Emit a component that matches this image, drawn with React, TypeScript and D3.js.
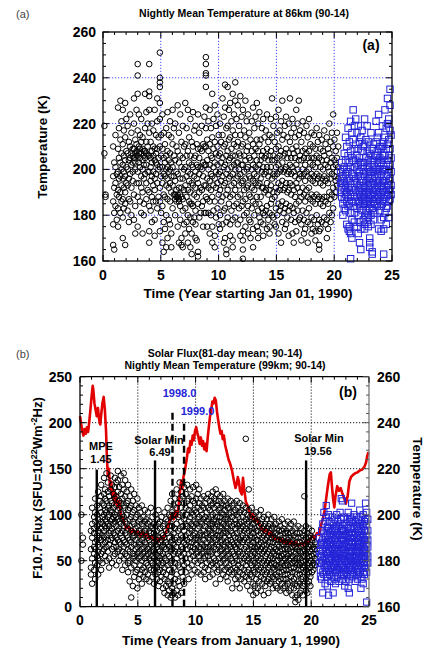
import React from "react";
import * as d3 from "d3";

const FONT = "'Liberation Sans', Arial, Helvetica, sans-serif";

// (a) nightly mean temperature at 86 km: [year since 1990, temperatures (K)]
const temp86Circles: [number, number[]][] = [
  [0.12, [219, 207]], [0.22, [189, 188]],
  [0.88, [210, 197, 186, 176, 167]], [0.97, [203, 192, 181, 165]], [1.08, [215, 201, 194, 184]],
  [1.19, [198, 189, 178]], [1.3, [227, 209, 199, 191, 183, 175]], [1.38, [218, 205, 196, 188]],
  [1.5, [230, 213, 203, 197, 190, 181]], [1.6, [221, 207, 200, 193, 186]],
  [1.71, [226, 211, 202, 196, 187, 179, 170]], [1.8, [217, 206, 199, 192, 183]],
  [1.92, [229, 214, 204, 197, 190, 185, 167]], [2.02, [222, 208, 201, 194]],
  [2.13, [219, 207, 200, 193, 182]], [2.24, [212, 204, 196, 187, 177]],
  [2.35, [224, 210, 205, 198, 186]], [2.46, [216, 207, 202, 192, 180]],
  [2.57, [209, 206, 203, 199, 195]], [2.68, [231, 220, 209, 205, 189, 178]],
  [2.79, [213, 207, 203, 200, 184, 172]], [2.9, [226, 211, 208, 206, 194]],
  [3.0, [246, 241, 233, 217, 206, 199, 188, 175]], [3.1, [224, 210, 207, 203, 194]],
  [3.2, [215, 209, 205, 201, 186]], [3.31, [222, 212, 207, 197, 192, 181]],
  [3.42, [214, 209, 204, 200, 190, 172]], [3.53, [208, 206, 202, 196, 185, 180]],
  [3.64, [233, 218, 208, 205, 198]], [3.75, [225, 212, 207, 202, 194, 187]],
  [3.86, [220, 210, 206, 199, 191]], [4.0, [246, 234, 232, 226, 216, 206, 199, 190, 184, 173, 168]],
  [4.12, [212, 205, 201, 195, 182]], [4.23, [220, 208, 203, 197, 188, 177]],
  [4.35, [217, 210, 206, 199, 193, 186]], [4.47, [226, 209, 204, 196, 191, 178, 171]],
  [4.58, [215, 207, 203, 198, 186]], [4.69, [231, 221, 209, 202, 194, 183]],
  [4.8, [214, 205, 200, 188]], [4.92, [251, 240, 238, 236, 229, 222, 210, 201, 192, 186, 173]],
  [5.03, [215, 206, 197, 181]], [5.14, [224, 209, 201, 194, 184, 168]],
  [5.25, [216, 205, 198, 189, 177, 164]], [5.36, [211, 203, 197, 188, 174]],
  [5.47, [218, 206, 200, 193, 180, 166]], [5.58, [225, 208, 201, 196, 187, 170]],
  [5.69, [215, 204, 199, 192, 178]], [5.8, [221, 207, 200, 194, 186, 176]],
  [5.91, [214, 203, 197, 190, 172, 166]], [6.02, [226, 211, 201, 193, 183]],
  [6.13, [218, 206, 197, 189]], [6.24, [220, 204, 195, 189, 187, 180]],
  [6.35, [210, 199, 191, 188, 186]], [6.46, [228, 208, 198, 189, 188, 175]],
  [6.57, [216, 203, 192, 187, 186, 168]], [6.68, [224, 206, 196, 189, 184, 178]],
  [6.79, [212, 201, 192, 188, 170, 167]], [6.9, [219, 205, 196, 187, 182, 166]],
  [7.01, [210, 200, 191, 176]], [7.12, [229, 211, 201, 193, 183, 172]],
  [7.23, [218, 206, 197, 188, 177]], [7.34, [226, 208, 199, 191, 180, 168]],
  [7.45, [214, 203, 195, 186, 174]], [7.56, [222, 206, 198, 190, 185, 179, 166]],
  [7.67, [212, 202, 194, 185, 172, 163]], [7.78, [225, 210, 201, 193, 184, 177]],
  [7.89, [217, 205, 197, 189, 179]], [8.0, [219, 206, 199, 192, 182, 176, 170]],
  [8.11, [211, 202, 196, 188, 169]], [8.22, [224, 209, 201, 194, 185, 164, 162]],
  [8.33, [216, 205, 198, 190, 179]], [8.44, [209, 201, 192, 181]],
  [8.55, [219, 208, 200, 191, 184]], [8.66, [211, 203, 197, 186, 175]],
  [8.77, [223, 210, 202, 193, 181]], [8.9, [249, 246, 242, 241, 236, 227, 218, 210, 202, 193, 188, 181]],
  [9.01, [213, 204, 196, 187, 175]], [9.12, [221, 208, 200, 192, 181]],
  [9.23, [226, 211, 202, 195, 186, 172]], [9.34, [218, 206, 198, 191, 180]],
  [9.45, [233, 214, 205, 197, 188, 175, 168]], [9.56, [222, 209, 201, 193, 182]],
  [9.67, [228, 212, 203, 196, 186, 171, 166]], [9.78, [219, 207, 199, 192, 179]],
  [9.9, [224, 210, 202, 194, 183]], [10.01, [215, 206, 198, 189, 176]],
  [10.12, [220, 207, 199, 191, 180, 174]], [10.23, [212, 203, 195, 186]],
  [10.34, [231, 215, 205, 197, 188, 176]], [10.45, [223, 210, 201, 193, 182, 168]],
  [10.56, [237, 227, 211, 202, 194, 183, 170]], [10.67, [218, 206, 198, 189, 177, 165, 163]],
  [10.78, [236, 219, 208, 200, 191, 179]], [10.89, [226, 213, 204, 196, 185]],
  [11.0, [229, 214, 205, 197, 188, 176, 171]], [11.11, [221, 209, 201, 193, 182]],
  [11.22, [233, 217, 206, 198, 189, 178, 169, 166]], [11.33, [224, 211, 202, 194, 184]],
  [11.44, [238, 230, 215, 206, 200, 191, 179]], [11.55, [222, 210, 203, 196, 185]],
  [11.66, [228, 212, 203, 197, 188, 176]], [11.77, [219, 207, 200, 193, 183]],
  [11.88, [232, 215, 206, 198, 189, 178, 171]], [11.99, [223, 210, 202, 194, 184]],
  [12.1, [226, 211, 202, 195, 186, 173, 169, 165, 161]], [12.21, [217, 206, 199, 191, 180]],
  [12.32, [230, 214, 204, 196, 187, 175]], [12.43, [221, 208, 200, 192, 181]],
  [12.54, [224, 210, 201, 193, 184, 172]], [12.65, [216, 205, 197, 189, 178]],
  [12.76, [213, 204, 196, 188, 177, 170]], [12.87, [221, 208, 200, 192, 183]],
  [12.98, [227, 211, 202, 195, 186, 174, 166]], [13.09, [218, 206, 198, 191, 180]],
  [13.2, [223, 209, 201, 194, 185]], [13.31, [229, 213, 204, 197, 188, 175]],
  [13.42, [220, 208, 200, 193, 182, 173, 170]], [13.53, [225, 211, 202, 194, 185, 179]],
  [13.64, [213, 204, 196, 188, 177]], [13.75, [218, 206, 199, 192, 183]],
  [13.86, [222, 208, 201, 192, 181, 176, 171]], [13.97, [214, 205, 198, 190, 180]],
  [14.08, [217, 206, 199, 191, 182]], [14.19, [224, 209, 201, 194, 184, 174]],
  [14.3, [212, 204, 197, 189, 178]], [14.41, [215, 206, 199, 191, 181, 175, 172]],
  [14.52, [222, 208, 201, 193, 185]], [14.63, [231, 214, 204, 196, 187, 180]],
  [14.74, [219, 206, 198, 190, 179]], [14.85, [212, 204, 197, 188, 176]],
  [14.96, [223, 209, 201, 192, 183, 175]], [15.07, [216, 205, 198, 190, 180]],
  [15.18, [226, 210, 202, 194, 185, 172]], [15.29, [217, 206, 199, 191, 182]],
  [15.4, [221, 208, 200, 193, 184, 168]], [15.51, [230, 213, 203, 195, 186, 177]],
  [15.62, [215, 206, 199, 191, 181]], [15.73, [219, 207, 200, 192, 183, 174]],
  [15.84, [223, 209, 201, 194, 185, 176]], [15.95, [214, 205, 198, 190, 179]],
  [16.06, [220, 207, 199, 191, 182, 171]], [16.17, [231, 212, 202, 194, 184]],
  [16.28, [216, 205, 198, 189, 178]], [16.39, [222, 209, 201, 193, 183, 172]],
  [16.5, [218, 207, 199, 191, 181, 168]], [16.61, [214, 205, 197, 188, 177]],
  [16.72, [226, 210, 202, 194, 185, 173]], [16.83, [220, 208, 200, 192, 182]],
  [16.94, [230, 215, 204, 196, 186, 178]], [17.05, [217, 206, 198, 190, 179]],
  [17.16, [212, 204, 197, 188, 176, 169]], [17.27, [221, 208, 200, 192, 182]],
  [17.38, [216, 205, 198, 189, 178, 172]], [17.49, [209, 202, 195, 186, 174]],
  [17.6, [219, 207, 199, 191, 181]], [17.71, [214, 205, 197, 188, 177, 168]],
  [17.82, [222, 208, 200, 192, 183]], [17.93, [211, 203, 196, 187, 176]],
  [18.04, [216, 205, 198, 189, 179, 172]], [18.15, [210, 202, 195, 186, 174]],
  [18.26, [215, 205, 197, 188, 178]], [18.37, [209, 201, 194, 185, 173, 169]],
  [18.48, [218, 206, 198, 189, 180]], [18.59, [212, 203, 196, 187, 176]],
  [18.7, [215, 205, 197, 188, 178, 173, 167, 165]], [18.81, [209, 201, 194, 185, 174]],
  [18.92, [213, 204, 196, 187, 177]], [19.03, [208, 200, 193, 184]],
  [19.14, [217, 206, 197, 188, 179]], [19.25, [211, 202, 195, 186, 176]],
  [19.36, [214, 204, 196, 188, 178, 170]], [19.47, [209, 201, 194, 185, 174]],
  [19.58, [220, 207, 199, 190, 181]], [19.69, [212, 203, 196, 187, 177]],
  [19.8, [216, 205, 198, 189, 180]], [19.91, [224, 210, 201, 192, 183]],
  [20.02, [213, 204, 197, 188]], [20.13, [208, 202, 195, 190]],
  [20.24, [216, 205, 199, 193]], [20.35, [210, 201, 196]],
];

const temp86Squares: [number, number[]][] = [
  [20.55, [199, 194, 190]], [20.65, [203, 196, 192, 188]], [20.75, [200, 197, 194, 185, 180]],
  [20.87, [207, 201, 195, 191, 187, 183]], [20.98, [214, 204, 198, 193, 189, 182]],
  [21.09, [210, 200, 195, 190, 186, 176]], [21.2, [218, 206, 199, 192, 188, 184, 174]],
  [21.31, [212, 203, 196, 191, 185, 175, 173]], [21.42, [221, 208, 201, 194, 189, 181, 172, 161]],
  [21.53, [216, 205, 198, 192, 186, 178, 170]], [21.64, [226, 213, 204, 197, 190, 184]],
  [21.75, [219, 209, 201, 195, 188, 181, 177]], [21.86, [222, 211, 204, 196, 191, 186]],
  [21.97, [216, 206, 200, 194, 188, 183, 175]], [22.08, [219, 209, 202, 197, 191, 186, 180, 172]],
  [22.19, [212, 205, 199, 193, 189, 185, 177, 168]], [22.3, [214, 203, 197, 192, 188, 184, 174, 165]],
  [22.41, [217, 208, 201, 195, 190, 187, 182]], [22.52, [210, 203, 198, 193, 189, 185, 178]],
  [22.63, [222, 211, 203, 197, 192, 188, 185, 176, 174]], [22.74, [213, 205, 199, 194, 190, 186, 182, 180]],
  [22.85, [219, 208, 201, 195, 190, 186, 181, 177]], [22.96, [212, 204, 198, 193, 189, 185, 179, 175]],
  [23.07, [207, 200, 196, 191, 187, 183, 170, 168, 166]], [23.18, [216, 206, 199, 194, 189, 185, 180, 176]],
  [23.29, [209, 202, 196, 191, 187, 183, 164, 163]], [23.4, [211, 204, 199, 194, 190, 186, 182, 178]],
  [23.51, [206, 201, 197, 192, 188, 185, 181]], [23.62, [221, 212, 206, 200, 195, 191, 187]],
  [23.73, [214, 208, 203, 198, 193, 189, 184]], [23.84, [224, 216, 209, 204, 199, 194, 188, 174]],
  [23.95, [210, 205, 200, 195, 190, 186, 182]], [24.06, [209, 203, 198, 193, 189, 184, 178, 173]],
  [24.17, [219, 210, 204, 199, 194, 190, 185]], [24.28, [212, 206, 200, 195, 191, 187, 179, 174, 163]],
  [24.39, [226, 214, 206, 200, 195, 190, 186, 181]], [24.5, [218, 209, 202, 197, 192, 188, 183, 176]],
  [24.61, [231, 220, 211, 204, 198, 193, 189, 184]], [24.72, [222, 213, 206, 200, 195, 191, 186, 179]],
  [24.83, [235, 228, 217, 209, 202, 196, 191, 187]], [24.92, [215, 205, 199, 193, 189]],
];

// (b) nightly mean temperature at 99 km (right axis, K)
const temp99Circles: [number, number[]][] = [
  [0.12, [200, 180]], [0.25, [190, 187]],
  [0.95, [193, 185, 177, 174]], [1.05, [203, 196, 190, 181, 170]], [1.22, [199, 194, 192, 186, 183, 176]],
  [1.31, [207, 201, 197, 188, 185, 179, 172]], [1.48, [204, 200, 195, 191, 189, 182, 178]],
  [1.57, [210, 198, 193, 187, 184, 181, 174]], [1.7, [206, 203, 196, 192, 190, 186, 180]],
  [1.83, [213, 208, 201, 197, 194, 189, 183, 176]], [1.95, [205, 199, 196, 191, 187, 184, 179]],
  [2.08, [216, 209, 204, 200, 193, 190, 185]], [2.17, [211, 207, 202, 198, 195, 188, 182]],
  [2.29, [218, 206, 201, 197, 194, 191, 186, 180]], [2.41, [214, 210, 203, 199, 196, 189, 184]],
  [2.52, [208, 204, 200, 195, 192, 187, 181, 177]], [2.66, [217, 211, 206, 202, 197, 193, 189]],
  [2.78, [213, 205, 201, 198, 194, 190, 185, 179]], [2.9, [209, 203, 199, 196, 192, 186, 182]],
  [3.02, [216, 212, 207, 200, 197, 191, 188, 183]], [3.14, [214, 208, 204, 199, 195, 190, 186, 178]],
  [3.27, [219, 215, 210, 202, 198, 193, 189, 184]], [3.39, [212, 206, 203, 197, 194, 188, 185, 180]],
  [3.53, [217, 209, 205, 201, 196, 192, 187, 182]], [3.66, [213, 207, 200, 198, 193, 190, 184, 176]],
  [3.78, [218, 211, 204, 199, 195, 189, 186, 181]], [3.91, [215, 208, 203, 197, 192, 188, 183, 178]],
  [4.04, [210, 205, 200, 196, 191, 187, 182]], [4.16, [213, 206, 202, 194, 190, 185, 179, 175]],
  [4.3, [208, 203, 198, 195, 189, 184, 180, 171]], [4.43, [211, 204, 199, 193, 188, 186, 177, 164]],
  [4.57, [206, 201, 197, 192, 190, 183, 181, 169]], [4.69, [209, 202, 196, 191, 187, 182, 178, 173]],
  [4.82, [204, 199, 194, 189, 185, 180, 175]], [4.96, [207, 200, 195, 192, 186, 183, 176, 168]],
  [5.09, [203, 197, 193, 188, 184, 181, 172]], [5.22, [201, 198, 191, 187, 182, 178, 174]],
  [5.35, [204, 196, 192, 189, 185, 180, 176, 170]], [5.49, [199, 195, 190, 186, 183, 177, 173]],
  [5.61, [202, 197, 193, 188, 184, 181, 175]], [5.74, [198, 194, 191, 187, 182, 179, 172]],
  [5.87, [201, 196, 190, 185, 183, 178, 174]], [6.0, [197, 193, 189, 186, 181, 177, 171]],
  [6.13, [203, 195, 192, 187, 184, 180, 176]], [6.27, [199, 194, 190, 185, 182, 179, 173]],
  [6.4, [196, 192, 188, 184, 181, 176, 170]], [6.53, [200, 195, 191, 187, 183, 178, 174]],
  [6.66, [198, 193, 189, 186, 180, 177, 172]], [6.79, [202, 196, 190, 185, 182, 179, 175, 169]],
  [6.92, [197, 194, 188, 184, 181, 176, 171]], [7.05, [199, 192, 189, 186, 182, 178, 173]],
  [7.18, [195, 191, 187, 183, 179, 175, 168]], [7.31, [201, 196, 190, 186, 181, 177, 172, 166]],
  [7.45, [198, 193, 188, 185, 180, 174, 169]], [7.58, [203, 197, 192, 187, 183, 178, 171, 165]],
  [7.71, [200, 195, 190, 186, 182, 176, 170, 167]], [7.84, [206, 199, 193, 188, 184, 179, 173, 164]],
  [7.97, [209, 201, 195, 189, 185, 180, 175, 168, 165]], [8.1, [204, 198, 192, 187, 183, 177, 170, 166]],
  [8.23, [207, 200, 194, 189, 184, 179, 172, 164]], [8.36, [211, 203, 196, 190, 186, 181, 174, 167]],
  [8.49, [205, 199, 193, 188, 183, 178, 171, 165]], [8.62, [214, 207, 200, 194, 189, 184, 177, 169]],
  [8.75, [210, 203, 197, 191, 186, 182, 175, 166]], [8.88, [208, 201, 195, 190, 185, 180, 173]],
  [9.01, [212, 205, 198, 193, 188, 183, 178, 170]], [9.14, [209, 203, 196, 191, 187, 181, 175]],
  [9.27, [213, 206, 200, 195, 189, 185, 179]], [9.4, [207, 202, 197, 192, 188, 183, 177, 172]],
  [9.53, [211, 204, 199, 194, 190, 186, 181]], [9.66, [208, 201, 196, 193, 188, 184, 178, 174]],
  [9.79, [212, 206, 200, 195, 191, 186, 182]], [9.92, [205, 202, 197, 192, 189, 185, 180, 176]],
  [10.05, [213, 207, 201, 196, 190, 187, 183]], [10.18, [209, 203, 198, 194, 189, 184, 179, 175]],
  [10.31, [211, 205, 199, 195, 191, 186, 182]], [10.44, [207, 202, 197, 192, 188, 185, 180, 174]],
  [10.57, [204, 200, 196, 191, 187, 183, 178]], [10.7, [208, 203, 198, 193, 189, 184, 181, 175]],
  [10.83, [205, 199, 195, 191, 186, 182, 177, 172]], [10.96, [207, 201, 197, 192, 188, 185, 179]],
  [11.09, [209, 203, 198, 194, 190, 186, 182, 176]], [11.22, [206, 202, 196, 193, 189, 184, 180, 173]],
  [11.35, [208, 204, 199, 195, 191, 187, 183, 178]], [11.48, [210, 205, 200, 196, 192, 188, 184, 179, 174]],
  [11.61, [207, 203, 198, 194, 190, 186, 181, 177]], [11.74, [211, 206, 201, 197, 193, 189, 185, 180, 170]],
  [11.87, [209, 204, 199, 196, 191, 187, 183, 178, 175]], [12.0, [206, 202, 197, 193, 190, 186, 181, 176]],
  [12.13, [208, 203, 199, 195, 191, 188, 184, 179, 172]], [12.26, [205, 201, 197, 194, 189, 185, 182, 177]],
  [12.39, [209, 204, 200, 196, 192, 187, 183, 180, 174]], [12.52, [206, 202, 198, 193, 190, 186, 181, 176]],
  [12.65, [204, 199, 195, 192, 188, 184, 179, 173]], [12.78, [207, 203, 198, 194, 189, 185, 182, 177, 171]],
  [12.91, [203, 200, 196, 191, 187, 183, 178, 175]], [13.04, [206, 201, 197, 193, 189, 186, 181, 176]],
  [13.17, [204, 199, 195, 192, 188, 184, 180, 174, 168]], [13.3, [205, 201, 196, 191, 187, 183, 179, 175]],
  [13.43, [202, 198, 194, 190, 186, 182, 177, 172]], [13.56, [206, 200, 196, 192, 188, 185, 180, 176, 170]],
  [13.69, [203, 199, 195, 190, 187, 183, 178, 173]], [13.82, [205, 201, 196, 193, 189, 184, 180, 175, 168]],
  [13.95, [202, 197, 194, 190, 186, 182, 177, 172]], [14.08, [204, 199, 195, 191, 188, 183, 179, 174]],
  [14.21, [201, 197, 193, 189, 185, 181, 176, 171]], [14.34, [233, 203, 198, 194, 190, 186, 182, 178, 173]],
  [14.47, [200, 196, 192, 188, 184, 180, 175, 169]], [14.6, [211, 202, 197, 193, 189, 185, 181, 176, 172]],
  [14.73, [199, 195, 191, 187, 183, 179, 174, 167]], [14.86, [203, 198, 194, 190, 186, 182, 178, 173]],
  [14.99, [200, 196, 192, 188, 184, 180, 176, 170, 165]], [15.12, [198, 194, 190, 186, 183, 179, 175, 169]],
  [15.25, [201, 197, 193, 189, 185, 181, 177, 172, 166]], [15.38, [197, 193, 189, 186, 182, 178, 174, 168]],
  [15.51, [200, 195, 191, 187, 184, 180, 176, 171]], [15.64, [202, 196, 192, 188, 185, 181, 177, 173, 167]],
  [15.77, [198, 194, 190, 186, 183, 179, 175, 170]], [15.9, [199, 195, 191, 187, 184, 180, 176, 172, 165]],
  [16.03, [196, 193, 189, 185, 182, 178, 174, 169]], [16.16, [198, 194, 190, 187, 183, 179, 175, 171]],
  [16.29, [200, 195, 191, 188, 184, 180, 177, 172, 166]], [16.42, [196, 192, 188, 185, 181, 178, 174, 170]],
  [16.55, [198, 194, 190, 186, 182, 179, 175, 171]], [16.68, [195, 191, 188, 184, 181, 177, 173, 168]],
  [16.81, [199, 194, 190, 186, 183, 179, 176, 172]], [16.94, [196, 192, 189, 185, 182, 178, 174, 169]],
  [17.07, [194, 191, 187, 184, 180, 177, 173, 168]], [17.2, [197, 193, 189, 186, 182, 178, 175, 171]],
  [17.33, [195, 191, 188, 184, 181, 177, 172, 167]], [17.46, [198, 193, 189, 185, 182, 179, 175, 170]],
  [17.59, [194, 190, 187, 183, 180, 176, 172, 168]], [17.72, [196, 192, 188, 185, 181, 178, 174, 169]],
  [17.85, [193, 190, 186, 183, 179, 176, 172, 166]], [17.98, [197, 192, 189, 185, 182, 178, 174, 170]],
  [18.11, [194, 190, 187, 183, 180, 176, 171, 167]], [18.24, [196, 192, 188, 184, 181, 177, 173, 168]],
  [18.37, [193, 189, 186, 182, 179, 175, 171, 165]], [18.5, [197, 191, 187, 184, 180, 177, 172, 168]],
  [18.63, [194, 190, 186, 183, 179, 175, 170, 164, 162]], [18.76, [192, 188, 185, 181, 178, 174, 169, 165]],
  [18.89, [195, 190, 186, 182, 179, 176, 171, 163]], [19.02, [192, 188, 184, 181, 178, 174, 170, 166]],
  [19.15, [194, 190, 186, 183, 179, 176, 172, 167]], [19.28, [191, 187, 184, 180, 177, 173, 169, 165]],
  [19.41, [208, 193, 189, 185, 182, 178, 175, 170]], [19.54, [195, 190, 187, 183, 180, 176, 172, 167]],
  [19.67, [192, 188, 185, 181, 178, 174, 170, 166]], [19.8, [194, 190, 186, 182, 179, 175, 171]],
  [19.93, [191, 187, 184, 180, 177, 173, 169]], [20.06, [193, 189, 185, 182, 178, 175]],
  [20.19, [190, 186, 183, 179, 176]], [20.32, [188, 185, 181, 178]], [20.45, [187, 183, 180]],
];

const temp99Squares: [number, number[]][] = [
  [20.7, [190, 184, 179]], [20.8, [187, 182, 176, 173]], [20.9, [193, 188, 183, 179, 172]],
  [21.0, [196, 189, 185, 180, 175, 166]], [21.1, [201, 192, 187, 182, 178, 174]],
  [21.2, [197, 190, 186, 181, 177, 170]], [21.3, [204, 199, 193, 188, 184, 179, 175]],
  [21.4, [195, 191, 187, 183, 178, 173, 169]], [21.5, [200, 194, 189, 185, 181, 176, 165]],
  [21.6, [197, 192, 188, 184, 180, 174]], [21.7, [193, 189, 186, 182, 178, 175, 171]],
  [21.8, [199, 194, 190, 185, 181, 177, 173]], [21.9, [196, 191, 187, 183, 179, 176, 166]],
  [22.0, [198, 193, 189, 185, 182, 178, 172]], [22.1, [194, 190, 186, 182, 179, 175, 170]],
  [22.2, [200, 195, 191, 187, 183, 180, 176]], [22.3, [197, 192, 188, 184, 181, 177, 173]],
  [22.4, [195, 191, 187, 184, 180, 176, 171]], [22.5, [201, 196, 191, 187, 183, 179, 175]],
  [22.6, [207, 198, 193, 189, 185, 181, 177, 174]], [22.7, [206, 194, 190, 186, 182, 178, 172]],
  [22.8, [199, 193, 189, 185, 181, 177, 174]], [22.9, [196, 191, 187, 183, 180, 176, 169]],
  [23.0, [193, 189, 186, 182, 178, 175, 171]], [23.1, [198, 194, 190, 186, 182, 179, 173]],
  [23.2, [201, 195, 191, 187, 183, 180, 176, 168]], [23.3, [197, 192, 188, 184, 181, 177, 172, 166]],
  [23.4, [199, 194, 190, 186, 182, 178, 174]], [23.5, [205, 198, 192, 188, 184, 180, 176]],
  [23.6, [196, 191, 187, 184, 180, 177, 173]], [23.7, [200, 194, 190, 186, 182, 179, 175]],
  [23.8, [197, 192, 188, 185, 181, 178, 171]], [23.9, [199, 195, 190, 186, 183, 179, 175]],
  [24.0, [195, 191, 187, 184, 180, 176, 172]], [24.1, [198, 193, 189, 186, 182, 178, 174]],
  [24.2, [202, 196, 191, 187, 183, 179, 175]], [24.3, [199, 194, 190, 186, 182, 178, 173, 168]],
  [24.4, [196, 192, 188, 184, 181, 177, 172]], [24.5, [200, 195, 190, 186, 182, 179, 175, 170]],
  [24.6, [197, 193, 189, 185, 182, 178, 174]], [24.7, [205, 198, 193, 189, 185, 181, 177]],
  [24.8, [201, 196, 191, 187, 183, 179, 175, 162]], [24.9, [198, 193, 189, 186, 182, 179]],
];

// F10.7 solar flux, 81-day mean: [year since 1990, SFU]
const solarFlux: [number, number][] = [
  [0, 207], [0.1, 199], [0.2, 191], [0.3, 186], [0.4, 193], [0.5, 188], [0.6, 195], [0.7, 190],
  [0.8, 201], [0.9, 214], [1.0, 228], [1.1, 240], [1.15, 236], [1.25, 221], [1.35, 214], [1.45, 207],
  [1.55, 216], [1.65, 204], [1.75, 198], [1.85, 211], [1.95, 222], [2.05, 228], [2.15, 214], [2.25, 192],
  [2.32, 165], [2.4, 142], [2.5, 150], [2.6, 128], [2.7, 136], [2.8, 120], [2.9, 127], [3.0, 112],
  [3.1, 123], [3.25, 108], [3.4, 115], [3.55, 99], [3.7, 96], [3.85, 90], [4.0, 85], [4.2, 87],
  [4.4, 80], [4.6, 84], [4.8, 79], [5.0, 82], [5.2, 77], [5.4, 81], [5.6, 76], [5.8, 79],
  [6.0, 74], [6.2, 77], [6.4, 72], [6.6, 75], [6.8, 71], [7.0, 76], [7.2, 73], [7.4, 80],
  [7.6, 86], [7.8, 96], [7.95, 101], [8.1, 95], [8.25, 104], [8.4, 98], [8.55, 112], [8.65, 126],
  [8.75, 137], [8.85, 128], [8.95, 141], [9.1, 150], [9.25, 162], [9.35, 172], [9.45, 168], [9.55, 180],
  [9.65, 176], [9.75, 186], [9.85, 181], [9.95, 191], [10.05, 195], [10.15, 189], [10.25, 184], [10.35, 177],
  [10.45, 184], [10.55, 175], [10.65, 180], [10.75, 171], [10.85, 177], [10.95, 169], [11.05, 184], [11.15, 196],
  [11.25, 207], [11.35, 214], [11.45, 223], [11.55, 221], [11.65, 227], [11.75, 224], [11.85, 212], [11.95, 203],
  [12.05, 195], [12.15, 188], [12.25, 191], [12.35, 182], [12.45, 186], [12.55, 176], [12.7, 168], [12.85, 160],
  [13.0, 155], [13.15, 148], [13.3, 138], [13.45, 129], [13.55, 133], [13.65, 141], [13.75, 136], [13.85, 126],
  [14.0, 122], [14.1, 140], [14.2, 128], [14.35, 114], [14.5, 110], [14.65, 103], [14.8, 97], [14.95, 101],
  [15.1, 93], [15.3, 96], [15.5, 89], [15.7, 86], [15.9, 81], [16.1, 84], [16.3, 79], [16.5, 81],
  [16.7, 76], [16.9, 73], [17.1, 75], [17.3, 71], [17.5, 73], [17.7, 69], [17.9, 72], [18.1, 68],
  [18.3, 71], [18.5, 67], [18.7, 70], [18.9, 66], [19.1, 69], [19.3, 67], [19.5, 71], [19.7, 69],
  [19.9, 73], [20.1, 77], [20.3, 74], [20.5, 80], [20.7, 78], [20.85, 89], [21.0, 95], [21.15, 104],
  [21.3, 118], [21.45, 132], [21.6, 144], [21.7, 146], [21.8, 130], [21.9, 117], [22.0, 108], [22.1, 120],
  [22.25, 131], [22.4, 126], [22.55, 129], [22.7, 123], [22.85, 118], [23.0, 112], [23.15, 120], [23.3, 136],
  [23.45, 141], [23.6, 143], [23.8, 145], [24.0, 146], [24.2, 148], [24.4, 149], [24.6, 152], [24.75, 157],
  [24.85, 164], [24.95, 168],
];

// vertical markers: year, top of line (SFU), dashed
const markerYears = [1.45, 6.49, 8.0, 9.0, 19.56];
const markerTops = [149, 159, 215, 199, 159];
const markerDashed = [false, false, true, true, false];

const yearTicks = [0, 5, 10, 15, 20, 25];
const tempTicks = [160, 180, 200, 220, 240, 260];
const fluxTicks = [0, 50, 100, 150, 200, 250];

const flatten = (cols: [number, number[]][]) =>
  cols.flatMap(([t, vs]) => vs.map((v) => [t, v] as [number, number]));

export default function App() {
  const xA = d3.scaleLinear().domain([0, 25]).range([103, 392]);
  const yA = d3.scaleLinear().domain([160, 260]).range([261, 32]);
  const xB = d3.scaleLinear().domain([0, 25]).range([80, 369]);
  const yFlux = d3.scaleLinear().domain([0, 250]).range([606.7, 376.7]);
  const yTemp = d3.scaleLinear().domain([160, 260]).range([606.7, 376.7]);

  const fluxLine = d3
    .line<[number, number]>()
    .x((d) => xB(d[0]))
    .y((d) => yFlux(d[1]));

  const bold = { fontFamily: FONT, fontWeight: 700 } as const;
  const blue = "#2424d8";

  // tick marks pointing inward, bottom and top
  const xMarks = (x, y0, y1, major, minor) => (
    <g stroke="#000" strokeWidth={1}>
      {d3.range(0, 25.01, 1).map((t) => {
        const len = t % 5 === 0 ? major : minor;
        return (
          <g key={t}>
            <line x1={x(t)} x2={x(t)} y1={y0} y2={y0 - len} />
            <line x1={x(t)} x2={x(t)} y1={y1} y2={y1 + len} />
          </g>
        );
      })}
    </g>
  );
  const yMarks = (scale, vals, xPos, dir, majorEvery, stroke = "#000") => (
    <g stroke={stroke} strokeWidth={1}>
      {vals.map((v) => {
        const len = Math.abs(v % majorEvery) < 1e-6 ? 6 : 3;
        return <line key={v} x1={xPos} x2={xPos + dir * len} y1={scale(v)} y2={scale(v)} />;
      })}
    </g>
  );

  return (
    <svg
      width={427}
      height={652}
      style={{ position: "absolute", left: 0, top: 0, background: "#fff" }}
    >
      <rect width={427} height={652} fill="#fff" />

      {/* ---------- panel (a) ---------- */}
      <text x={16} y={18} fontFamily={FONT} fontSize={11} fill="#444">(a)</text>
      <text x={244} y={17} textAnchor="middle" fontSize={10.5} {...bold}>
        Nightly Mean Temperature at 86km (90-14)
      </text>

      <g stroke="#3030ff" strokeWidth={0.9} strokeDasharray="1.2,1.8">
        {[5, 10, 15, 20].map((t) => (
          <line key={t} x1={xA(t)} x2={xA(t)} y1={yA(160)} y2={yA(260)} />
        ))}
        {[180, 200, 220, 240].map((v) => (
          <line key={v} x1={xA(0)} x2={xA(25)} y1={yA(v)} y2={yA(v)} />
        ))}
      </g>

      <g fill="none" stroke="#000" strokeWidth={1}>
        {flatten(temp86Circles).map(([t, v], i) => (
          <circle key={i} cx={xA(t)} cy={yA(v)} r={2.8} />
        ))}
      </g>
      <g fill="none" stroke={blue} strokeWidth={1}>
        {flatten(temp86Squares).map(([t, v], i) => (
          <rect key={i} x={xA(t) - 3.2} y={yA(v) - 3.2} width={6.4} height={6.4} />
        ))}
      </g>

      <rect x={xA(0)} y={yA(260)} width={xA(25) - xA(0)} height={yA(160) - yA(260)} fill="none" stroke="#000" strokeWidth={1.3} />
      {xMarks(xA, yA(160), yA(260), 6, 3)}
      {yMarks(yA, d3.range(160, 260.01, 5), xA(0), 1, 20)}
      {yMarks(yA, d3.range(160, 260.01, 5), xA(25), -1, 20)}

      <text x={371} y={50} textAnchor="middle" fontSize={14} {...bold}>(a)</text>

      {tempTicks.map((v) => (
        <text key={v} x={96} y={yA(v) + 5} textAnchor="end" fontSize={14} {...bold}>{v}</text>
      ))}
      {yearTicks.map((t) => (
        <text key={t} x={xA(t)} y={280} textAnchor="middle" fontSize={14} {...bold}>{t}</text>
      ))}
      <text x={248} y={298} textAnchor="middle" fontSize={13.5} {...bold}>
        Time (Year starting Jan 01, 1990)
      </text>
      <text transform="translate(47,147) rotate(-90)" textAnchor="middle" fontSize={13.5} {...bold}>
        Temperature (K)
      </text>

      {/* ---------- panel (b) ---------- */}
      <text x={16} y={358} fontFamily={FONT} fontSize={11} fill="#444">(b)</text>
      <text x={225} y={357} textAnchor="middle" fontSize={10.5} {...bold}>
        Solar Flux(81-day mean; 90-14)
      </text>
      <text x={225} y={369} textAnchor="middle" fontSize={10.5} {...bold}>
        Nightly Mean Temperature (99km; 90-14)
      </text>

      <g stroke="#000" strokeWidth={0.9} strokeDasharray="1.2,1.8">
        {[5, 10, 15, 20].map((t) => (
          <line key={t} x1={xB(t)} x2={xB(t)} y1={yFlux(0)} y2={yFlux(250)} />
        ))}
        {[50, 100, 150, 200].map((v) => (
          <line key={v} x1={xB(0)} x2={xB(25)} y1={yFlux(v)} y2={yFlux(v)} />
        ))}
      </g>

      <path d={fluxLine(solarFlux) || ""} fill="none" stroke="#e20000" strokeWidth={2.6} strokeLinejoin="round" />

      <g fill="none" stroke="#000" strokeWidth={1}>
        {flatten(temp99Circles).map(([t, v], i) => (
          <circle key={i} cx={xB(t)} cy={yTemp(v)} r={2.8} />
        ))}
      </g>
      <g fill="none" stroke={blue} strokeWidth={1}>
        {flatten(temp99Squares).map(([t, v], i) => (
          <rect key={i} x={xB(t) - 3.1} y={yTemp(v) - 3.1} width={6.2} height={6.2} />
        ))}
      </g>

      {markerYears.map((t, i) => (
        <line
          key={t}
          x1={xB(t)}
          x2={xB(t)}
          y1={yFlux(0)}
          y2={yFlux(markerTops[i])}
          stroke="#000"
          strokeWidth={2.4}
          strokeDasharray={markerDashed[i] ? "7,4" : undefined}
        />
      ))}

      <g fontSize={11} {...bold} textAnchor="middle">
        <text x={101} y={450}>MPE</text>
        <text x={101} y={463}>1.45</text>
        <text x={159} y={444}>Solar Min</text>
        <text x={160} y={456}>6.49</text>
        <text x={319} y={442}>Solar Min</text>
        <text x={318} y={455}>19.56</text>
        <text x={179.5} y={396.5} fill={blue}>1998.0</text>
        <text x={197.5} y={415} fill={blue}>1999.0</text>
      </g>

      <line x1={xB(0)} x2={xB(25)} y1={yFlux(250)} y2={yFlux(250)} stroke="#000" strokeWidth={1.3} />
      <line x1={xB(0)} x2={xB(25)} y1={yFlux(0)} y2={yFlux(0)} stroke="#000" strokeWidth={1.3} />
      <line x1={xB(0)} x2={xB(0)} y1={yFlux(0)} y2={yFlux(250)} stroke="#000" strokeWidth={1.3} />
      <line x1={xB(25)} x2={xB(25)} y1={yFlux(0)} y2={yFlux(250)} stroke="#777" strokeWidth={1.3} />
      {xMarks(xB, yFlux(0), yFlux(250), 6, 3)}
      {yMarks(yFlux, d3.range(0, 250.01, 10), xB(0), 1, 50)}
      {yMarks(yTemp, d3.range(160, 260.01, 4), xB(25), -1, 20, "#555")}

      <text x={348} y={397} textAnchor="middle" fontSize={14} {...bold}>(b)</text>

      {fluxTicks.map((v) => (
        <text key={v} x={72} y={yFlux(v) + 5} textAnchor="end" fontSize={14} {...bold}>{v}</text>
      ))}
      {tempTicks.map((v) => (
        <text key={v} x={377} y={yTemp(v) + 5} textAnchor="start" fontSize={14} {...bold}>{v}</text>
      ))}
      {yearTicks.map((t) => (
        <text key={t} x={xB(t)} y={625} textAnchor="middle" fontSize={14} {...bold}>{t}</text>
      ))}
      <text x={231} y={645} textAnchor="middle" fontSize={13.5} {...bold}>
        Time (Years from January 1, 1990)
      </text>
      <text transform="translate(42,488) rotate(-90)" textAnchor="middle" fontSize={13} {...bold}>
        F10.7 Flux (SFU=10
        <tspan fontSize={9} dy={-5}>22</tspan>
        <tspan dy={5}>Wm</tspan>
        <tspan fontSize={9} dy={-5}>-2</tspan>
        <tspan dy={5}>Hz)</tspan>
      </text>
      <text transform="translate(413,489) rotate(90)" textAnchor="middle" fontSize={13.5} {...bold}>
        Temperature (K)
      </text>
    </svg>
  );
}
